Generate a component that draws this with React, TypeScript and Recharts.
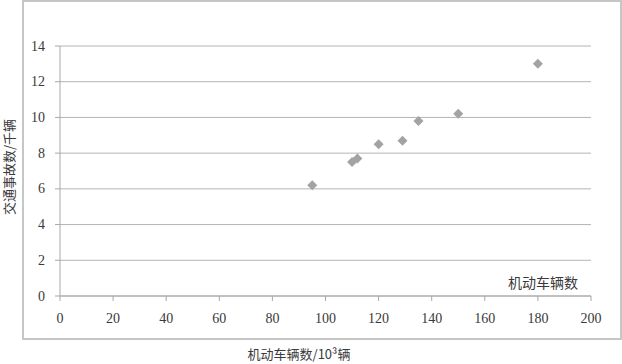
import { CartesianGrid, Scatter, ScatterChart, XAxis, YAxis } from "recharts"

// motor vehicles (10^3) vs traffic accidents (thousands)
const vehicles = [95, 110, 112, 120, 129, 135, 150, 180]
const accidents = [6.2, 7.5, 7.7, 8.5, 8.7, 9.8, 10.2, 13.0]
const xTicks = [0, 20, 40, 60, 80, 100, 120, 140, 160, 180, 200]
const yTicks = [0, 2, 4, 6, 8, 10, 12, 14]

const seriesName = "机动车辆数"
const xLabel = "机动车辆数/10³辆"
const yLabel = "交通事故数/千辆"

const points = vehicles.map((v, i) => ({ x: v, y: accidents[i] }))

const serif = "Liberation Serif, DejaVu Serif, serif"
const cjk = "Noto Sans CJK SC, sans-serif"
const ink = "#3a3a3a"
const axisGrey = "#a8a8a8"

function Diamond(props: any) {
  const { cx, cy } = props
  if (cx == null || cy == null) return null
  const r = 5
  return <polygon fill="#a3a3a3" points={`${cx},${cy - r} ${cx + r},${cy} ${cx},${cy + r} ${cx - r},${cy}`} />
}

function XTick({ x, y, payload }: any) {
  return (
    <text fill={ink} style={{ fontFamily: serif, fontSize: 14 }} textAnchor="middle" x={x} y={y + 10}>
      {payload.value}
    </text>
  )
}

function YTick({ x, y, payload }: any) {
  return (
    <text fill={ink} style={{ fontFamily: serif, fontSize: 14 }} textAnchor="end" x={x} y={y + 4.5}>
      {payload.value}
    </text>
  )
}

export default function App() {
  return (
    <div style={{ position: "absolute", left: 0, top: 0, width: 622, height: 364, background: "#fff" }}>
      <div
        style={{
          position: "absolute",
          left: 22,
          top: 0,
          width: 600,
          height: 340,
          border: "2px solid #c6c6c6",
          boxSizing: "border-box",
        }}
      />
      <ScatterChart height={364} margin={{ top: 46, right: 31, left: 0, bottom: 38 }} width={622}>
        <CartesianGrid stroke="#b4b4b4" vertical={false} />
        <XAxis
          axisLine={{ stroke: axisGrey }}
          dataKey="x"
          domain={[0, 200]}
          height={30}
          tick={<XTick />}
          tickLine={{ stroke: axisGrey }}
          tickMargin={12}
          tickSize={5}
          ticks={xTicks}
          type="number"
        />
        <YAxis
          axisLine={{ stroke: axisGrey }}
          dataKey="y"
          domain={[0, 14]}
          tick={<YTick />}
          tickLine={{ stroke: axisGrey }}
          tickMargin={10}
          tickSize={5}
          ticks={yTicks}
          type="number"
          width={60}
        />
        <Scatter data={points} isAnimationActive={false} name={seriesName} shape={<Diamond />} />
        <text fill={ink} style={{ fontFamily: cjk, fontSize: 14 }} textAnchor="middle" x={543} y={288}>
          {seriesName}
        </text>
        <text fill={ink} style={{ fontFamily: cjk, fontSize: 13 }} textAnchor="middle" x={299} y={359}>
          {xLabel}
        </text>
        <text
          fill={ink}
          style={{ fontFamily: cjk, fontSize: 13 }}
          textAnchor="middle"
          transform="rotate(-90 14 167)"
          x={14}
          y={167}
        >
          {yLabel}
        </text>
      </ScatterChart>
    </div>
  )
}
